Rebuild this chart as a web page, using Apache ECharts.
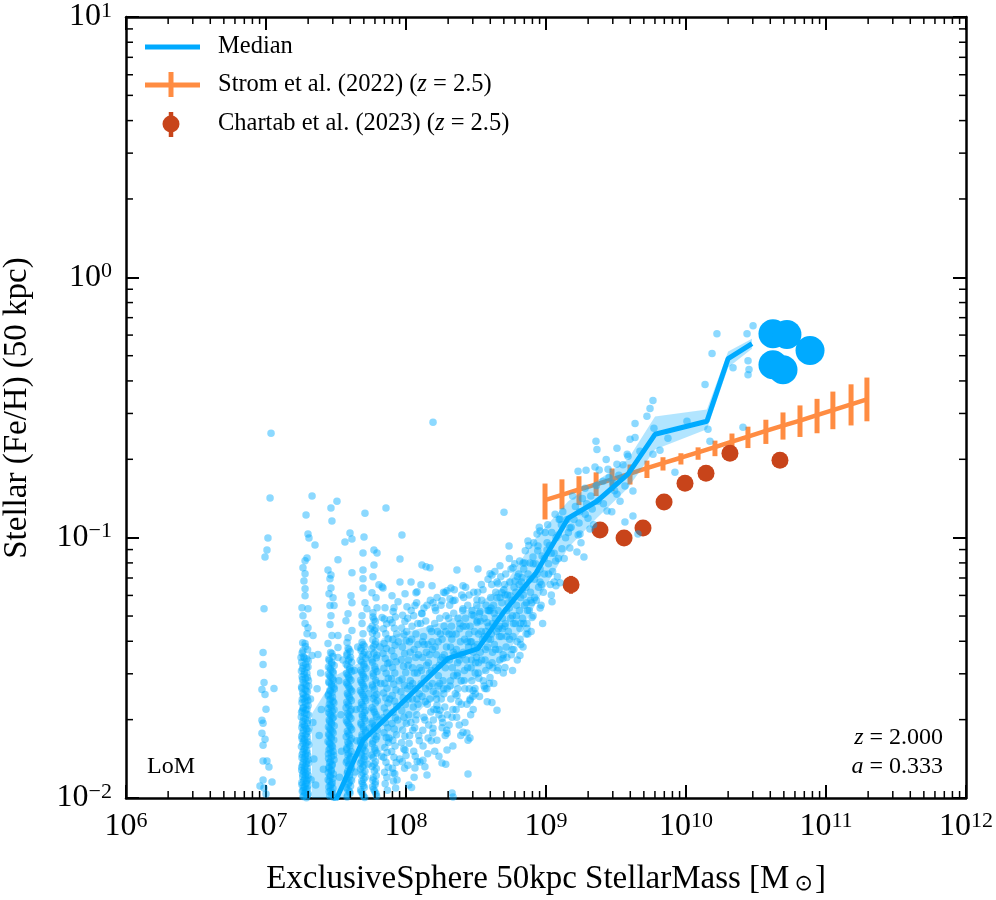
<!DOCTYPE html>
<html><head><meta charset="utf-8">
<script src="https://cdn.jsdelivr.net/npm/echarts@6/dist/echarts.min.js"></script>
<style>html,body{margin:0;padding:0;background:#fff}#c{width:996px;height:900px}</style>
</head><body><div id="c"></div>
<script>
// ---------------- data ----------------
const xRange = [1e6, 1e12];
const yRange = [0.01, 10];
const minorMult = [2,3,4,5,6,7,8,9];

// median relation
const medM = [2.14e7,3.16e7,4.93e7,2.00e8,3.27e8,5.01e8,8.49e8,1.44e9,2.31e9,3.85e9,6.01e9,1.41e10,2.00e10,2.96e10];
const medZ = [0.0045,0.00982,0.01667,0.0344,0.0375,0.0520,0.0733,0.1189,0.138,0.1754,0.2495,0.280,0.4875,0.556];
// 16-84 band
const bandM  = [2.13e7,3.16e7,4.93e7,6.85e7,1.32e8,2.00e8,3.27e8,5.01e8,8.49e8,1.44e9,2.31e9,3.85e9,6.01e9,1.41e10,2.00e10,2.96e10];
const bandLo = [0.004,0.0090,0.0132,0.0153,0.0223,0.0259,0.0290,0.0337,0.0560,0.0914,0.119,0.155,0.218,0.261,0.450,0.532];
const bandHi = [0.0211,0.0296,0.0337,0.0413,0.0451,0.0480,0.0557,0.0653,0.100,0.138,0.165,0.200,0.292,0.311,0.519,0.581];
// individual massive galaxies
const bigM = [4.18e10,5.26e10,7.69e10,4.18e10,4.93e10];
const bigZ = [0.607,0.603,0.523,0.462,0.442];
// Strom et al. (2022)
const strM  = [9.84e8,1.30e9,1.72e9,2.28e9,2.96e9,3.98e9,5.26e9,6.85e9,9.20e9,1.22e10,1.61e10,2.13e10,2.77e10,3.72e10,4.93e10,6.52e10,8.63e10,1.12e11,1.51e11,1.96e11];
const strZ  = [0.1393,0.1459,0.1531,0.1603,0.1675,0.1762,0.1849,0.1932,0.2028,0.2128,0.2228,0.2339,0.2443,0.2570,0.2692,0.2818,0.2958,0.3090,0.3251,0.3396];
const strLo = [0.1175,0.1285,0.1334,0.1445,0.1510,0.1600,0.1695,0.1811,0.1910,0.1992,0.2056,0.2148,0.2209,0.2291,0.2381,0.2437,0.2518,0.2610,0.2698,0.2799];
const strHi = [0.1614,0.1675,0.1722,0.1782,0.1844,0.1910,0.1977,0.2037,0.2110,0.2223,0.2359,0.2512,0.2669,0.2838,0.3027,0.3221,0.3414,0.3640,0.3882,0.4121];
// Chartab et al. (2023)
const chM  = [1.51e9,2.43e9,3.61e9,4.93e9,6.97e9,9.84e9,1.39e10,2.06e10,4.69e10];
const chZ  = [0.0659,0.1070,0.0998,0.1089,0.1371,0.1619,0.1769,0.2110,0.1983];
const chLo = [0.0609,0.1035,0.0965,0.1053,0.1326,0.1566,0.1711,0.2041,0.1918];
const chHi = [0.0713,0.1105,0.1032,0.1125,0.1417,0.1673,0.1829,0.2181,0.2050];

// simulated galaxies, [log10 M*, log10 (Fe/H)] in dex
const colA = [[7.036,-0.599],[7.029,-0.848],[7.014,-1.001],[7.007,-1.047],[6.993,-1.074],[6.986,-1.273],[6.979,-1.441],[6.979,-1.487],[6.986,-1.556],[6.971,-1.583],[6.993,-1.602],[7.000,-1.659],[6.971,-1.701],[6.979,-1.713],[6.971,-1.751],[6.993,-1.774],[6.979,-1.797],[6.979,-1.858],[7.007,-1.858],[7.021,-1.881],[6.979,-1.931],[7.043,-1.939],[6.957,-1.954],[7.057,-1.579],[6.986,-1.962],[7.000,-1.985]];
const colB = [[7.329,-0.840],[7.286,-0.913],[7.300,-0.986],[7.307,-1.001],[7.350,-1.028],[7.293,-1.078],[7.279,-1.089],[7.264,-1.116],[7.279,-1.139],[7.271,-1.166],[7.279,-1.196],[7.279,-1.223],[7.257,-1.269],[7.300,-1.273],[7.264,-1.300],[7.279,-1.330],[7.300,-1.346],[7.293,-1.369],[7.336,-1.376],[7.279,-1.407],[7.264,-1.434],[7.329,-1.453],[7.371,-1.449],[7.250,-1.460],
[7.268,-1.458],[7.291,-1.466],[7.255,-1.479],[7.283,-1.486],[7.300,-1.497],[7.261,-1.503],[7.275,-1.515],[7.292,-1.521],[7.258,-1.534],[7.281,-1.541],[7.303,-1.549],[7.266,-1.557],[7.288,-1.568],[7.254,-1.574],[7.279,-1.583],[7.296,-1.592],[7.262,-1.598],[7.284,-1.611],[7.271,-1.617],[7.299,-1.626],[7.257,-1.634],[7.285,-1.641],[7.268,-1.652],[7.293,-1.658],[7.260,-1.665],[7.277,-1.674],[7.304,-1.681],[7.252,-1.689],[7.282,-1.697],[7.265,-1.705],[7.295,-1.712],[7.273,-1.721],[7.256,-1.729],[7.289,-1.735],[7.301,-1.744],[7.263,-1.751],[7.280,-1.758],[7.294,-1.766],[7.258,-1.772],[7.270,-1.781],[7.286,-1.788],[7.305,-1.795],[7.253,-1.802],[7.276,-1.809],[7.291,-1.817],[7.264,-1.823],[7.282,-1.831],[7.298,-1.838],[7.257,-1.845],[7.272,-1.851],[7.288,-1.859],[7.304,-1.866],[7.261,-1.872],[7.279,-1.879],[7.294,-1.886],[7.255,-1.893],[7.270,-1.899],[7.285,-1.906],[7.301,-1.913],[7.262,-1.919],[7.277,-1.926],[7.292,-1.933],[7.256,-1.940],[7.283,-1.946],[7.299,-1.953],[7.267,-1.960],[7.286,-1.967],[7.259,-1.974],[7.276,-1.981],[7.296,-1.988],[7.264,-1.994]];
const colB2 = [[7.262,-1.404],[7.281,-1.418],[7.297,-1.431],[7.258,-1.443],[7.276,-1.462],[7.302,-1.474],[7.266,-1.491],[7.289,-1.499],[7.253,-1.512],[7.272,-1.526],[7.296,-1.537],[7.261,-1.545],[7.279,-1.561],[7.305,-1.570],[7.256,-1.579],[7.287,-1.588],[7.269,-1.603],[7.293,-1.614],[7.259,-1.621],[7.278,-1.630],[7.301,-1.645],[7.264,-1.655],[7.283,-1.662],[7.254,-1.671],[7.291,-1.678],[7.270,-1.693],[7.298,-1.703],[7.260,-1.716],[7.280,-1.726],[7.306,-1.733],[7.267,-1.740],[7.288,-1.754],[7.255,-1.763],[7.275,-1.775],[7.299,-1.784],[7.263,-1.790],[7.284,-1.800],[7.270,-1.814],[7.293,-1.826],[7.258,-1.834],[7.279,-1.842],[7.302,-1.853],[7.266,-1.863],[7.287,-1.869],[7.255,-1.882],[7.276,-1.890],[7.296,-1.898],[7.262,-1.909],[7.281,-1.915],[7.303,-1.925],[7.269,-1.934],[7.290,-1.942],[7.257,-1.949],[7.276,-1.957],[7.297,-1.965],[7.265,-1.971],[7.284,-1.979],[7.302,-1.985],[7.270,-1.992],[7.289,-1.999]];
const colC = [[7.507,-0.860],[7.464,-0.886],[7.471,-0.936],[7.514,-1.085],[7.443,-1.124],[7.464,-1.143],[7.457,-1.158],[7.464,-1.193],[7.450,-1.215],[7.479,-1.231],[7.457,-1.261],[7.486,-1.261],[7.464,-1.300],[7.457,-1.334],[7.471,-1.376],[7.514,-1.376],[7.443,-1.407],[7.514,-1.422],[7.471,-1.445],[7.514,-1.460],
[7.452,-1.472],[7.471,-1.485],[7.446,-1.497],[7.463,-1.508],[7.481,-1.519],[7.455,-1.530],[7.474,-1.541],[7.448,-1.553],[7.466,-1.562],[7.484,-1.574],[7.457,-1.586],[7.472,-1.595],[7.444,-1.607],[7.462,-1.618],[7.478,-1.628],[7.453,-1.640],[7.468,-1.651],[7.486,-1.661],[7.449,-1.673],[7.465,-1.684],[7.476,-1.694],[7.455,-1.706],[7.470,-1.717],[7.446,-1.727],[7.461,-1.739],[7.480,-1.749],[7.452,-1.760],[7.467,-1.771],[7.443,-1.783],[7.458,-1.793],[7.475,-1.804],[7.450,-1.815],[7.464,-1.826],[7.482,-1.836],[7.447,-1.848],[7.460,-1.859],[7.473,-1.870],[7.451,-1.881],[7.466,-1.892],[7.445,-1.903],[7.459,-1.914],[7.477,-1.925],[7.453,-1.936],[7.468,-1.947],[7.449,-1.958],[7.462,-1.970],[7.474,-1.981],[7.456,-1.992]];
const colC2 = [[7.461,-1.441],[7.478,-1.456],[7.449,-1.466],[7.469,-1.479],[7.487,-1.491],[7.457,-1.502],[7.476,-1.514],[7.445,-1.525],[7.463,-1.536],[7.482,-1.547],[7.452,-1.558],[7.470,-1.569],[7.488,-1.581],[7.459,-1.590],[7.447,-1.601],[7.475,-1.612],[7.456,-1.623],[7.485,-1.634],[7.462,-1.646],[7.444,-1.656],[7.473,-1.667],[7.458,-1.678],[7.483,-1.689],[7.451,-1.700],[7.466,-1.711],[7.487,-1.722],[7.455,-1.733],[7.472,-1.744],[7.447,-1.755],[7.464,-1.766],[7.484,-1.777],[7.453,-1.788],[7.470,-1.799],[7.459,-1.810],[7.479,-1.821],[7.446,-1.831],[7.467,-1.842],[7.486,-1.853],[7.454,-1.864],[7.471,-1.875],[7.449,-1.886],[7.465,-1.897],[7.481,-1.908],[7.457,-1.919],[7.444,-1.930],[7.473,-1.941],[7.460,-1.952],[7.478,-1.963],[7.451,-1.975],[7.468,-1.986],[7.483,-1.997]];
const colD = [[7.600,-0.982],[7.614,-1.005],[7.564,-1.017],[7.614,-1.135],[7.607,-1.223],[7.614,-1.250],[7.586,-1.292],[7.571,-1.319],[7.614,-1.357],[7.586,-1.384],[7.579,-1.403],
[7.586,-1.425],[7.601,-1.438],[7.578,-1.452],[7.594,-1.466],[7.612,-1.479],[7.583,-1.493],[7.598,-1.507],[7.575,-1.521],[7.590,-1.535],[7.607,-1.548],[7.580,-1.562],[7.596,-1.577],[7.613,-1.590],[7.585,-1.604],[7.600,-1.618],[7.577,-1.632],[7.592,-1.646],[7.609,-1.660],[7.582,-1.674],[7.597,-1.688],[7.574,-1.702],[7.589,-1.716],[7.605,-1.730],[7.581,-1.744],[7.595,-1.758],[7.611,-1.772],[7.584,-1.786],[7.599,-1.800],[7.576,-1.814],[7.591,-1.828],[7.606,-1.842],[7.580,-1.856],[7.594,-1.870],[7.610,-1.884],[7.583,-1.898],[7.598,-1.912],[7.577,-1.926],[7.593,-1.940],[7.604,-1.954],[7.585,-1.968],[7.600,-1.982],[7.579,-1.996]];
const colD2 = [[7.593,-1.430],[7.579,-1.445],[7.604,-1.459],[7.588,-1.472],[7.573,-1.486],[7.599,-1.500],[7.611,-1.514],[7.584,-1.528],[7.597,-1.542],[7.574,-1.556],[7.589,-1.570],[7.606,-1.584],[7.581,-1.598],[7.594,-1.611],[7.610,-1.625],[7.586,-1.639],[7.572,-1.653],[7.601,-1.667],[7.589,-1.681],[7.607,-1.695],[7.580,-1.709],[7.596,-1.723],[7.612,-1.737],[7.587,-1.751],[7.573,-1.765],[7.602,-1.779],[7.591,-1.793],[7.578,-1.807],[7.608,-1.821],[7.585,-1.835],[7.599,-1.849],[7.574,-1.863],[7.589,-1.877],[7.605,-1.891],[7.581,-1.905],[7.595,-1.919],[7.611,-1.933],[7.588,-1.947],[7.574,-1.961],[7.597,-1.975],[7.583,-1.989]];
const colE = [[7.707,-0.906],[7.700,-0.997],[7.693,-1.059],[7.693,-1.124],[7.693,-1.158],[7.693,-1.193],[7.707,-1.250],[7.721,-1.273],[7.686,-1.300],[7.686,-1.330],[7.693,-1.369],
[7.686,-1.402],[7.703,-1.417],[7.679,-1.433],[7.695,-1.448],[7.712,-1.463],[7.684,-1.478],[7.700,-1.494],[7.676,-1.509],[7.692,-1.525],[7.709,-1.540],[7.682,-1.556],[7.698,-1.571],[7.674,-1.587],[7.690,-1.602],[7.706,-1.618],[7.681,-1.633],[7.697,-1.649],[7.713,-1.664],[7.687,-1.680],[7.703,-1.695],[7.678,-1.711],[7.694,-1.726],[7.710,-1.742],[7.685,-1.757],[7.701,-1.773],[7.677,-1.788],[7.693,-1.804],[7.708,-1.819],[7.683,-1.835],[7.699,-1.850],[7.675,-1.866],[7.691,-1.881],[7.707,-1.897],[7.682,-1.912],[7.698,-1.928],[7.688,-1.944],[7.702,-1.960],[7.680,-1.976],[7.695,-1.992]];
const colE2 = [[7.694,-1.410],[7.679,-1.425],[7.705,-1.440],[7.687,-1.456],[7.673,-1.471],[7.699,-1.486],[7.714,-1.502],[7.683,-1.517],[7.696,-1.533],[7.676,-1.548],[7.691,-1.563],[7.707,-1.579],[7.681,-1.594],[7.697,-1.610],[7.712,-1.625],[7.686,-1.641],[7.673,-1.656],[7.702,-1.672],[7.689,-1.687],[7.709,-1.703],[7.680,-1.718],[7.696,-1.734],[7.711,-1.749],[7.687,-1.765],[7.673,-1.780],[7.703,-1.796],[7.690,-1.811],[7.678,-1.827],[7.706,-1.842],[7.684,-1.858],[7.700,-1.873],[7.675,-1.889],[7.692,-1.904],[7.708,-1.920],[7.684,-1.936],[7.697,-1.952],[7.676,-1.968],[7.691,-1.984],[7.705,-1.998]];
const colF = [[7.771,-1.047],[7.793,-1.059],[7.771,-1.105],[7.764,-1.150],[7.807,-1.181],[7.757,-1.212],[7.786,-1.231],[7.764,-1.288],[7.793,-1.269],
[7.764,-1.305],[7.781,-1.322],[7.758,-1.340],[7.774,-1.357],[7.791,-1.374],[7.763,-1.392],[7.779,-1.409],[7.755,-1.427],[7.771,-1.444],[7.788,-1.461],[7.761,-1.479],[7.777,-1.496],[7.793,-1.514],[7.767,-1.531],[7.783,-1.548],[7.759,-1.566],[7.775,-1.583],[7.790,-1.601],[7.765,-1.618],[7.781,-1.635],[7.757,-1.653],[7.773,-1.670],[7.789,-1.688],[7.762,-1.705],[7.778,-1.722],[7.794,-1.740],[7.768,-1.757],[7.784,-1.774],[7.760,-1.792],[7.776,-1.809],[7.792,-1.827],[7.766,-1.844],[7.782,-1.861],[7.758,-1.879],[7.774,-1.896],[7.787,-1.914],[7.763,-1.931],[7.779,-1.948],[7.769,-1.966],[7.785,-1.983]];
const colF2 = [[7.771,-1.314],[7.786,-1.348],[7.760,-1.366],[7.783,-1.400],[7.768,-1.418],[7.792,-1.452],[7.757,-1.470],[7.780,-1.505],[7.765,-1.522],[7.789,-1.557],[7.762,-1.574],[7.777,-1.609],[7.795,-1.626],[7.769,-1.661],[7.785,-1.679],[7.758,-1.713],[7.774,-1.731],[7.791,-1.765],[7.764,-1.783],[7.780,-1.818],[7.756,-1.835],[7.772,-1.870],[7.788,-1.887],[7.766,-1.922],[7.782,-1.939],[7.761,-1.957],[7.776,-1.974],[7.790,-1.992]];
const colG = [[7.857,-0.886],[7.836,-1.193],[7.829,-1.189],[7.850,-1.269],[7.829,-1.307],
[7.846,-1.312],[7.862,-1.331],[7.839,-1.350],[7.855,-1.369],[7.872,-1.388],[7.844,-1.407],[7.860,-1.426],[7.836,-1.445],[7.852,-1.464],[7.869,-1.483],[7.842,-1.502],[7.858,-1.521],[7.874,-1.540],[7.848,-1.559],[7.864,-1.578],[7.840,-1.597],[7.856,-1.616],[7.871,-1.635],[7.845,-1.654],[7.861,-1.673],[7.837,-1.692],[7.853,-1.711],[7.869,-1.730],[7.843,-1.749],[7.859,-1.768],[7.875,-1.787],[7.849,-1.806],[7.865,-1.825],[7.841,-1.844],[7.857,-1.863],[7.873,-1.882],[7.847,-1.901],[7.863,-1.920],[7.851,-1.945],[7.867,-1.970]];
const colH = [[7.900,-1.223],[7.914,-1.269],[7.886,-1.315],
[7.908,-1.284],[7.924,-1.305],[7.901,-1.327],[7.917,-1.348],[7.933,-1.370],[7.906,-1.391],[7.922,-1.413],[7.898,-1.434],[7.914,-1.456],[7.930,-1.477],[7.904,-1.499],[7.920,-1.520],[7.896,-1.542],[7.912,-1.563],[7.928,-1.585],[7.902,-1.606],[7.918,-1.628],[7.934,-1.649],[7.908,-1.671],[7.924,-1.692],[7.900,-1.714],[7.916,-1.735],[7.932,-1.757],[7.906,-1.778],[7.922,-1.800],[7.898,-1.821],[7.914,-1.843],[7.930,-1.864],[7.904,-1.886],[7.920,-1.907],[7.910,-1.935],[7.926,-1.962]];
const colI = [[7.976,-1.298],[7.992,-1.322],[7.969,-1.347],[7.985,-1.371],[8.001,-1.396],[7.974,-1.420],[7.990,-1.445],[7.966,-1.469],[7.982,-1.494],[7.998,-1.518],[7.972,-1.543],[7.988,-1.567],[7.964,-1.592],[7.980,-1.616],[7.996,-1.641],[7.970,-1.665],[7.986,-1.690],[8.002,-1.714],[7.976,-1.739],[7.992,-1.763],[7.968,-1.788],[7.984,-1.812],[8.000,-1.837],[7.974,-1.861],[7.990,-1.886]];
const betweenCols = [[7.318,-1.62],[7.335,-1.71],[7.342,-1.85],[7.322,-1.93],[7.365,-1.58],[7.380,-1.76],[7.395,-1.66],[7.410,-1.89],[7.390,-1.52],[7.355,-1.95],[7.520,-1.55],[7.535,-1.68],[7.540,-1.82],[7.525,-1.92],[7.550,-1.47],[7.630,-1.51],[7.645,-1.66],[7.650,-1.78],[7.635,-1.90],[7.655,-1.42],[7.730,-1.45],[7.735,-1.60],[7.742,-1.73],[7.728,-1.87],[7.745,-1.35],[7.815,-1.42],[7.820,-1.56],[7.812,-1.70],[7.825,-1.84],[7.880,-1.48],[7.884,-1.62],[7.878,-1.77],[7.945,-1.40],[7.950,-1.55],[7.940,-1.70],[7.955,-1.85]];
const cloudEdge = [[7.971,-0.990],[7.957,-1.082],[8.114,-1.105],[8.143,-1.112],[8.171,-1.116],[8.364,-1.124],[8.514,-1.120],[8.957,-1.170],[7.957,-1.170],[8.036,-1.170],[8.107,-1.181],[8.186,-1.185],[8.321,-1.193],[8.407,-1.185],[8.600,-1.139],[8.657,-1.177],[7.993,-1.215],[8.079,-1.208],[8.279,-1.212],[8.314,-1.235],[7.943,-1.246],[8.064,-1.261],[8.193,-1.250],[8.257,-1.242],[8.336,-1.242],[8.507,-1.238],[8.007,-1.265],[8.114,-1.292],[8.207,-1.269],[8.407,-1.273],[8.471,-1.296],[8.529,-1.284],[8.600,-1.281],[8.650,-1.231],[8.686,-1.212],[8.743,-1.223],[8.829,-1.154],[8.850,-1.097],[8.886,-1.097],[8.943,-1.032],[8.779,-1.166],[8.507,-1.326],[8.579,-1.326],[8.614,-1.143],[8.293,-1.204],[8.071,-1.212],[8.193,-0.557],
[8.900,-1.307],[8.814,-1.349],[8.864,-1.349],[8.814,-1.453],[8.693,-1.464],[8.707,-1.499],[8.600,-1.537],[8.564,-1.579],[8.614,-1.633],[8.650,-1.663],[8.493,-1.579],[8.479,-1.587],[8.457,-1.625],[8.364,-1.606],[8.329,-1.690],[8.257,-1.694],[8.407,-1.747],[8.443,-1.778],[8.457,-1.770],[8.293,-1.751],[8.293,-1.816],[8.257,-1.866],[8.121,-1.855],[8.100,-1.862],[8.064,-1.885],[8.150,-1.912],[8.443,-1.908],[8.221,-1.778],[8.193,-1.732],[8.243,-1.663],[8.221,-1.644],[8.329,-1.981],[8.336,-1.996],[7.936,-1.931],[7.907,-1.904],[7.993,-1.816],[8.014,-1.874]];
const cloudCore = [[8.012,-1.31],[8.043,-1.34],[8.071,-1.37],[8.025,-1.40],[8.058,-1.43],[8.089,-1.45],[8.018,-1.47],[8.047,-1.50],[8.081,-1.52],[8.031,-1.55],[8.065,-1.58],[8.094,-1.60],[8.015,-1.62],[8.052,-1.65],[8.077,-1.68],[8.035,-1.71],[8.062,-1.73],[8.091,-1.76],[8.022,-1.79],[8.055,-1.82],[8.084,-1.33],[8.041,-1.39],[8.069,-1.46],[8.028,-1.57],[8.086,-1.64],[8.049,-1.74],[8.037,-1.28],[8.076,-1.25],[8.058,-1.92],[8.020,-1.95],
[8.112,-1.29],[8.141,-1.32],[8.172,-1.35],[8.125,-1.38],[8.158,-1.41],[8.189,-1.43],[8.118,-1.46],[8.147,-1.49],[8.181,-1.51],[8.131,-1.54],[8.165,-1.57],[8.194,-1.59],[8.115,-1.61],[8.152,-1.64],[8.177,-1.67],[8.135,-1.70],[8.162,-1.72],[8.191,-1.75],[8.122,-1.80],[8.155,-1.83],[8.183,-1.36],[8.145,-1.44],[8.169,-1.52],[8.128,-1.27],[8.174,-1.24],[8.108,-1.56],[8.199,-1.66],
[8.212,-1.28],[8.241,-1.31],[8.272,-1.34],[8.225,-1.36],[8.258,-1.39],[8.289,-1.42],[8.218,-1.45],[8.247,-1.47],[8.281,-1.50],[8.231,-1.53],[8.265,-1.55],[8.294,-1.58],[8.215,-1.60],[8.252,-1.62],[8.277,-1.65],[8.235,-1.68],[8.262,-1.71],[8.291,-1.74],[8.222,-1.23],[8.268,-1.21],[8.286,-1.30],[8.245,-1.37],[8.229,-1.57],[8.273,-1.45],[8.205,-1.82],[8.284,-1.87],
[8.312,-1.26],[8.341,-1.29],[8.372,-1.31],[8.325,-1.34],[8.358,-1.37],[8.389,-1.40],[8.318,-1.42],[8.347,-1.45],[8.381,-1.47],[8.331,-1.50],[8.365,-1.53],[8.394,-1.55],[8.315,-1.57],[8.352,-1.60],[8.377,-1.63],[8.335,-1.66],[8.362,-1.69],[8.398,-1.22],[8.345,-1.20],[8.384,-1.35],[8.327,-1.39],[8.369,-1.48],[8.308,-1.72],[8.391,-1.76],
[8.412,-1.23],[8.441,-1.26],[8.472,-1.28],[8.425,-1.31],[8.458,-1.34],[8.489,-1.36],[8.418,-1.39],[8.447,-1.42],[8.481,-1.44],[8.431,-1.47],[8.465,-1.50],[8.494,-1.52],[8.415,-1.55],[8.452,-1.58],[8.477,-1.61],[8.435,-1.64],[8.462,-1.68],[8.426,-1.19],[8.484,-1.21],[8.449,-1.37],[8.403,-1.45],[8.468,-1.40],[8.497,-1.48],[8.421,-1.71],
[8.512,-1.21],[8.541,-1.24],[8.572,-1.26],[8.525,-1.29],[8.558,-1.31],[8.589,-1.34],[8.518,-1.37],[8.547,-1.39],[8.581,-1.42],[8.531,-1.44],[8.565,-1.47],[8.594,-1.49],[8.515,-1.52],[8.552,-1.55],[8.577,-1.58],[8.538,-1.18],[8.586,-1.16],[8.503,-1.46],[8.569,-1.36],[8.525,-1.61],[8.592,-1.28],
[8.612,-1.18],[8.641,-1.21],[8.672,-1.23],[8.625,-1.26],[8.658,-1.28],[8.689,-1.31],[8.618,-1.33],[8.647,-1.36],[8.681,-1.38],[8.631,-1.41],[8.665,-1.43],[8.694,-1.45],[8.615,-1.48],[8.652,-1.51],[8.677,-1.15],[8.635,-1.13],[8.699,-1.20],[8.604,-1.39],[8.668,-1.34],[8.627,-1.56],
[8.712,-1.14],[8.741,-1.17],[8.772,-1.19],[8.725,-1.22],[8.758,-1.24],[8.789,-1.26],[8.718,-1.28],[8.747,-1.31],[8.781,-1.33],[8.731,-1.36],[8.765,-1.38],[8.794,-1.40],[8.715,-1.42],[8.752,-1.45],[8.777,-1.10],[8.738,-1.08],[8.796,-1.15],[8.706,-1.34],[8.761,-1.51],
[8.812,-1.09],[8.841,-1.12],[8.872,-1.14],[8.825,-1.17],[8.858,-1.19],[8.889,-1.21],[8.818,-1.23],[8.847,-1.26],[8.881,-1.28],[8.831,-1.31],[8.865,-1.33],[8.894,-1.36],[8.815,-1.39],[8.852,-1.05],[8.877,-1.03],[8.836,-1.42],[8.897,-1.25],
[8.912,-1.02],[8.941,-1.05],[8.972,-1.07],[8.925,-1.10],[8.958,-1.12],[8.989,-1.14],[8.918,-1.16],[8.947,-1.19],[8.981,-1.21],[8.931,-1.24],[8.965,-1.26],[8.994,-0.98],[8.952,-0.96],[8.908,-1.30],[8.976,-1.33],
[9.012,-0.95],[9.041,-0.98],[9.072,-1.00],[9.025,-1.03],[9.058,-1.06],[9.089,-1.08],[9.018,-1.10],[9.047,-1.13],[9.081,-1.15],[9.031,-1.18],[9.094,-0.93],[9.065,-0.91],[9.038,-1.22],
[9.12,-0.90],[9.15,-0.93],[9.18,-0.96],[9.21,-0.88],[9.14,-1.00],[9.26,-0.85],[9.23,-0.99],[9.17,-1.04],[9.28,-0.91],[9.19,-0.84],[9.13,-1.08],[9.25,-1.02],
[9.32,-0.84],[9.36,-0.80],[9.41,-0.87],[9.45,-0.77],[9.38,-0.74],[9.49,-0.82],[9.52,-0.76],[9.43,-0.70],[9.55,-0.72],[9.34,-0.95],[9.47,-0.90],[9.58,-0.68]];
const cloudCore2 = [[8.005,-1.36],[8.03,-1.44],[8.06,-1.52],[8.085,-1.41],[8.012,-1.58],[8.045,-1.62],[8.07,-1.70],[8.095,-1.78],[8.02,-1.68],[8.055,-1.30],[8.08,-1.86],[8.04,-1.96],
[8.105,-1.33],[8.13,-1.41],[8.16,-1.48],[8.185,-1.40],[8.11,-1.51],[8.14,-1.58],[8.17,-1.62],[8.195,-1.70],[8.12,-1.74],[8.15,-1.26],[8.18,-1.78],[8.135,-1.88],
[8.205,-1.33],[8.23,-1.40],[8.26,-1.46],[8.285,-1.36],[8.21,-1.50],[8.24,-1.56],[8.27,-1.60],[8.295,-1.68],[8.22,-1.66],[8.25,-1.26],[8.28,-1.76],[8.235,-1.84],
[8.305,-1.31],[8.33,-1.37],[8.36,-1.43],[8.385,-1.33],[8.31,-1.47],[8.34,-1.53],[8.37,-1.58],[8.395,-1.64],[8.32,-1.62],[8.35,-1.24],[8.38,-1.72],[8.335,-1.80],
[8.405,-1.28],[8.43,-1.34],[8.46,-1.40],[8.485,-1.30],[8.41,-1.44],[8.44,-1.50],[8.47,-1.55],[8.495,-1.60],[8.42,-1.58],[8.45,-1.22],[8.48,-1.66],[8.435,-1.75],
[8.505,-1.26],[8.53,-1.32],[8.56,-1.38],[8.585,-1.28],[8.51,-1.41],[8.54,-1.47],[8.57,-1.51],[8.595,-1.56],[8.52,-1.54],[8.55,-1.20],[8.58,-1.63],
[8.605,-1.23],[8.63,-1.29],[8.66,-1.35],[8.685,-1.25],[8.61,-1.37],[8.64,-1.43],[8.67,-1.47],[8.695,-1.52],[8.62,-1.50],[8.65,-1.17],
[8.705,-1.18],[8.73,-1.25],[8.76,-1.30],[8.785,-1.21],[8.71,-1.33],[8.74,-1.39],[8.77,-1.43],[8.795,-1.47],[8.72,-1.46],[8.75,-1.12],
[8.805,-1.14],[8.83,-1.20],[8.86,-1.25],[8.885,-1.16],[8.81,-1.28],[8.84,-1.33],[8.87,-1.37],[8.82,-1.41]];
const cloudCore3 = [[8.015,-1.49],[8.048,-1.56],[8.078,-1.62],[8.098,-1.50],[8.026,-1.76],[8.066,-1.84],
[8.118,-1.40],[8.138,-1.63],[8.168,-1.45],[8.188,-1.56],[8.128,-1.69],[8.158,-1.77],
[8.208,-1.42],[8.238,-1.49],[8.268,-1.58],[8.288,-1.47],[8.218,-1.62],[8.258,-1.73],
[8.308,-1.37],[8.338,-1.44],[8.368,-1.52],[8.388,-1.45],[8.318,-1.55],[8.358,-1.66],
[8.408,-1.34],[8.438,-1.40],[8.468,-1.47],[8.488,-1.42],[8.418,-1.51],[8.458,-1.62],
[8.508,-1.32],[8.538,-1.36],[8.568,-1.43],[8.588,-1.39],[8.518,-1.48],[8.558,-1.57],
[8.608,-1.27],[8.638,-1.31],[8.668,-1.38],[8.688,-1.35],[8.618,-1.44],[8.658,-1.50],
[8.708,-1.22],[8.738,-1.27],[8.768,-1.33],[8.788,-1.30],[8.718,-1.38],[8.758,-1.43],
[8.808,-1.18],[8.838,-1.22],[8.868,-1.28],[8.888,-1.24],[8.818,-1.33],[8.858,-1.37],
[8.908,-1.10],[8.938,-1.14],[8.968,-1.18],[8.988,-1.08],[8.918,-1.23],[8.958,-1.27],
[9.008,-1.02],[9.038,-1.06],[9.068,-1.09],[9.088,-0.99],[9.018,-1.14],[9.058,-1.17],
[9.11,-0.95],[9.16,-0.98],[9.20,-0.93],[9.24,-0.90],[9.29,-0.87],[9.33,-0.89]];
const highMass = [[10.479,-0.186],[10.436,-0.217],[10.221,-0.217],[10.186,-0.293],[10.336,-0.347],[10.443,-0.320],[10.443,-0.374],[10.450,-0.354],[10.136,-0.412],[10.157,-0.584],[10.171,-0.630],[10.407,-0.576],[10.007,-0.553],[9.871,-0.618],[9.814,-0.664],[9.764,-0.473],[9.743,-0.504],[9.721,-0.534],[9.771,-0.580],[9.636,-0.561],[9.636,-0.615],[9.600,-0.622],[9.507,-0.657],[9.357,-0.630],[9.364,-0.661],[9.443,-0.737],[9.286,-0.741],[9.229,-0.745],[9.350,-0.729],[9.621,-0.821],[9.921,-0.749],[9.586,-0.687],[9.764,-0.680],[9.564,-0.802],[9.507,-0.833],[9.529,-0.860],[9.436,-0.898],[9.371,-0.860],[8.700,-0.902],[8.936,-0.986],[8.736,-1.032],[9.043,-1.246],[9.071,-1.185],[9.100,-1.173],[9.271,-1.074],[9.221,-1.055],[9.243,-0.986],[9.171,-0.963],[9.236,-0.944],[9.100,-0.928],[9.300,-0.925],[9.564,-0.940],[9.621,-0.917],[9.657,-0.986],[9.314,-0.967],[9.114,-1.043],[9.007,-1.047],[8.907,-1.074],[8.836,-1.097],[8.764,-1.116],[8.671,-1.108],[8.871,-1.013],[8.957,-0.974],[9.279,-0.810],[9.407,-0.783],[9.479,-0.791],[9.507,-0.718],[9.671,-0.668]];

// ---------------- styles ----------------
const BLUE = '#00AAFF', ORANGE = '#FF8C42', RED = '#C8441A';
const SERIF = 'Liberation Serif';

const galaxies = [].concat(colA,colB,colB2,colC,colC2,colD,colD2,colE,colE2,colF,colF2,colG,colH,colI,betweenCols,cloudEdge,cloudCore,cloudCore2,cloudCore3,highMass)
  .map(p => [Math.pow(10,p[0]), Math.pow(10,p[1])]);

const minorX = [], minorY = [];
for (let e = 6; e < 12; e++) minorMult.forEach(m => minorX.push([m*Math.pow(10,e), 1]));
for (let e = -2; e < 1; e++) minorMult.forEach(m => minorY.push([1e9, m*Math.pow(10,e)]));

function expLabel(v){
  const e = Math.round(Math.log10(v));
  return '{b|10}{s|' + (e < 0 ? '\u2212' + (-e) : e) + '}';
}
const tickRich = {
  b: {fontSize: 32, fontFamily: SERIF, color: '#000', lineHeight: 34},
  s: {fontSize: 22, fontFamily: SERIF, color: '#000', lineHeight: 14, verticalAlign: 'top'}
};
const axisBase = {
  type: 'log', logBase: 10,
  axisLine: {show: true, onZero: false, lineStyle: {color: '#000', width: 2.5}},
  axisTick: {show: true, inside: true, length: 13, lineStyle: {color: '#000', width: 2}},
  splitLine: {show: false}, minorTick: {show: false}, minorSplitLine: {show: false}
};
const TXT = 24.5;
const italic = {i: {fontSize: TXT, fontFamily: SERIF, fontStyle: 'italic', fill: '#000'}};

const chart = echarts.init(document.getElementById('c'));
chart.setOption({
  animation: false,
  backgroundColor: '#fff',
  grid: {left: 126, top: 14, width: 840, height: 784, containLabel: false},
  xAxis: [
    Object.assign({}, axisBase, {position: 'bottom', min: xRange[0], max: xRange[1],
      axisLabel: {show: true, margin: 12, formatter: expLabel, rich: tickRich, showMinLabel: true, showMaxLabel: true}}),
    Object.assign({}, axisBase, {position: 'top', min: xRange[0], max: xRange[1], axisLabel: {show: false}})
  ],
  yAxis: [
    Object.assign({}, axisBase, {position: 'left', min: yRange[0], max: yRange[1],
      axisLabel: {show: true, margin: 14, formatter: expLabel, rich: tickRich, showMinLabel: true, showMaxLabel: true}}),
    Object.assign({}, axisBase, {position: 'right', min: yRange[0], max: yRange[1], axisLabel: {show: false}})
  ],
  series: [
    { type: 'line', name: 'Strom', z: 1, data: strM.map((m,i) => [m, strZ[i]]),
      showSymbol: false, symbol: 'none', lineStyle: {color: ORANGE, width: 4.5}, silent: true },
    { type: 'custom', z: 1, silent: true, data: strM.map((m,i) => [m, strLo[i], strHi[i]]),
      encode: {x: 0, y: [1,2]},
      renderItem: function(params, api){
        const a = api.coord([api.value(0), api.value(1)]);
        const b = api.coord([api.value(0), api.value(2)]);
        return {type: 'line', shape: {x1: a[0], y1: a[1], x2: b[0], y2: b[1]}, style: {stroke: ORANGE, lineWidth: 5}};
      } },
    { type: 'custom', z: 1, silent: true, data: chM.map((m,i) => [m, chLo[i], chHi[i]]),
      encode: {x: 0, y: [1,2]},
      renderItem: function(params, api){
        const a = api.coord([api.value(0), api.value(1)]);
        const b = api.coord([api.value(0), api.value(2)]);
        return {type: 'line', shape: {x1: a[0], y1: a[1], x2: b[0], y2: b[1]}, style: {stroke: RED, lineWidth: 4}};
      } },
    { type: 'scatter', z: 1, silent: true, data: chM.map((m,i) => [m, chZ[i]]),
      symbol: 'circle', symbolSize: 17, itemStyle: {color: RED, opacity: 1} },
    { type: 'custom', z: 2, silent: true, clip: true,
      data: bandM.map((m,i) => [m, bandLo[i], bandHi[i]]),
      encode: {x: 0, y: [1,2]},
      renderItem: function(params, api){
        if (params.dataIndex !== 0) return null;
        const pts = [];
        for (let i = 0; i < bandM.length; i++) pts.push(api.coord([bandM[i], bandHi[i]]));
        for (let i = bandM.length - 1; i >= 0; i--) pts.push(api.coord([bandM[i], bandLo[i]]));
        return {type: 'polygon', shape: {points: pts}, style: {fill: 'rgba(0,170,255,0.3)'}};
      } },
    { type: 'scatter', z: 3, silent: true, data: galaxies, large: false,
      symbol: 'circle', symbolSize: 7.5, itemStyle: {color: 'rgba(0,170,255,0.45)', opacity: 1} },
    { type: 'line', z: 4, silent: true, data: medM.map((m,i) => [m, medZ[i]]),
      showSymbol: false, symbol: 'none', clip: true, lineStyle: {color: BLUE, width: 5} },
    { type: 'scatter', z: 5, silent: true, data: bigM.map((m,i) => [m, bigZ[i]]),
      symbol: 'circle', symbolSize: 29, itemStyle: {color: BLUE, opacity: 1} },
    { type: 'custom', z: 10, silent: true, clip: false, data: minorX, encode: {x: 0, y: 1},
      renderItem: function(params, api){
        const p = api.coord([api.value(0), 1]);
        const cs = params.coordSys;
        const yb = cs.y + cs.height, yt = cs.y;
        return {type: 'group', children: [
          {type: 'line', shape: {x1: p[0], y1: yb, x2: p[0], y2: yb - 7}, style: {stroke: '#000', lineWidth: 1.5}},
          {type: 'line', shape: {x1: p[0], y1: yt, x2: p[0], y2: yt + 7}, style: {stroke: '#000', lineWidth: 1.5}}
        ]};
      } },
    { type: 'custom', z: 10, silent: true, clip: false, data: minorY, encode: {x: 0, y: 1},
      renderItem: function(params, api){
        const p = api.coord([1e9, api.value(1)]);
        const cs = params.coordSys;
        const xl = cs.x, xr = cs.x + cs.width;
        return {type: 'group', children: [
          {type: 'line', shape: {x1: xl, y1: p[1], x2: xl + 7, y2: p[1]}, style: {stroke: '#000', lineWidth: 1.5}},
          {type: 'line', shape: {x1: xr, y1: p[1], x2: xr - 7, y2: p[1]}, style: {stroke: '#000', lineWidth: 1.5}}
        ]};
      } }
  ],
  graphic: [
    {type: 'line', shape: {x1: 145, y1: 47, x2: 200, y2: 47}, style: {stroke: BLUE, lineWidth: 5}},
    {type: 'text', x: 218, y: 47, style: {text: 'Median', fontSize: TXT, fontFamily: SERIF, fill: '#000', textAlign: 'left', textVerticalAlign: 'middle'}},
    {type: 'line', shape: {x1: 145, y1: 85, x2: 200, y2: 85}, style: {stroke: ORANGE, lineWidth: 5}},
    {type: 'line', shape: {x1: 171, y1: 72, x2: 171, y2: 97}, style: {stroke: ORANGE, lineWidth: 5}},
    {type: 'text', x: 218, y: 85, style: {text: 'Strom et al. (2022) ({i|z} = 2.5)', fontSize: TXT, fontFamily: SERIF, fill: '#000', textAlign: 'left', textVerticalAlign: 'middle', rich: italic}},
    {type: 'line', shape: {x1: 171, y1: 112, x2: 171, y2: 137}, style: {stroke: RED, lineWidth: 4.5}},
    {type: 'circle', shape: {cx: 171, cy: 124, r: 8.5}, style: {fill: RED}},
    {type: 'text', x: 218, y: 124, style: {text: 'Chartab et al. (2023) ({i|z} = 2.5)', fontSize: TXT, fontFamily: SERIF, fill: '#000', textAlign: 'left', textVerticalAlign: 'middle', rich: italic}},
    {type: 'text', x: 147, y: 767, style: {text: 'LoM', fontSize: 24, fontFamily: SERIF, fill: '#000', textAlign: 'left', textVerticalAlign: 'middle'}},
    {type: 'text', x: 943, y: 738, style: {text: '{i|z} = 2.000', fontSize: 24, fontFamily: SERIF, fill: '#000', textAlign: 'right', textVerticalAlign: 'middle', rich: {i: {fontSize: 24, fontFamily: SERIF, fontStyle: 'italic', fill: '#000'}}}},
    {type: 'text', x: 943, y: 767, style: {text: '{i|a} = 0.333', fontSize: 24, fontFamily: SERIF, fill: '#000', textAlign: 'right', textVerticalAlign: 'middle', rich: {i: {fontSize: 24, fontFamily: SERIF, fontStyle: 'italic', fill: '#000'}}}},
    {type: 'text', x: 546, y: 879, style: {text: 'ExclusiveSphere 50kpc StellarMass [M{sub|\u2299}]', fontSize: 33, fontFamily: SERIF, fill: '#000', textAlign: 'center', textVerticalAlign: 'middle',
      rich: {sub: {fontSize: 22, fontFamily: 'DejaVu Sans', fill: '#000', lineHeight: 20, verticalAlign: 'bottom', padding: [0, 2, 0, 5]}}}},
    {type: 'text', x: 17, y: 408, rotation: Math.PI / 2, style: {text: 'Stellar (Fe/H) (50 kpc)', fontSize: 33, fontFamily: SERIF, fill: '#000', textAlign: 'center', textVerticalAlign: 'middle'}}
  ]
});
</script>
</body></html>
